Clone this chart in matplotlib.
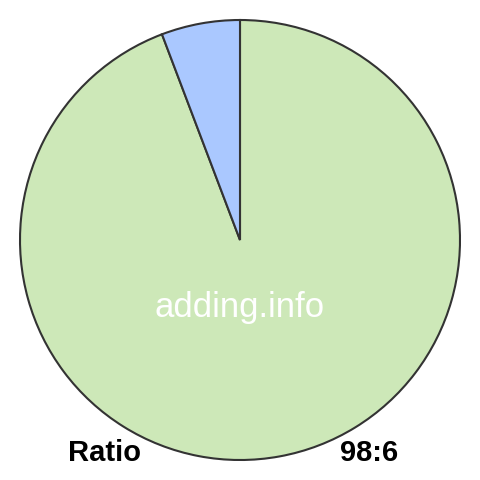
import matplotlib; matplotlib.use('Agg')  # noqa: E702
import matplotlib.pyplot as plt

labels = ['Green', 'Blue']
values = [98, 6]
colors = ['#cde8b8', '#aac8ff']
ratio_text = '98:6'

plt.rcParams['font.family'] = ['Liberation Sans', 'DejaVu Sans']

fig = plt.figure(figsize=(4.8, 4.8), dpi=100)
ax = fig.add_axes([0, 0, 1, 1])
ax.pie(values, colors=colors, startangle=90, counterclock=False,
       radius=1.0, center=(0, 0),
       wedgeprops=dict(edgecolor='#333333', linewidth=1.5))
ax.set_xlim(-240 / 220, 240 / 220)
ax.set_ylim(-240 / 220, 240 / 220)
ax.set_aspect('equal')
ax.axis('off')

ax.text(0, (240 - 317) / 220, 'adding.info', color='white', fontsize=25,
        ha='center', va='baseline')
ax.text((68 - 240) / 220, (240 - 461) / 220, 'Ratio', fontsize=21,
        fontweight='bold', ha='left', va='baseline')
ax.text((398 - 240) / 220, (240 - 461) / 220, ratio_text, fontsize=21,
        fontweight='bold', ha='right', va='baseline')

fig.savefig('out.png', dpi=100)
